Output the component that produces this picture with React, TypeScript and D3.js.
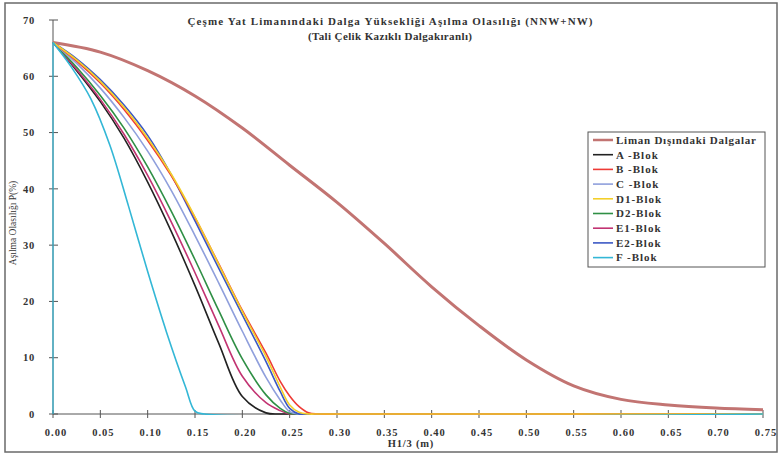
import React from "react";
import * as d3 from "d3";

const titleLine1 = "Çeşme Yat Limanındaki Dalga Yüksekliği Aşılma Olasılığı  (NNW+NW)";
const titleLine2 = "(Tali Çelik Kazıklı Dalgakıranlı)";
const yLabel = "Aşılma Olasılığı P(%)";
const xLabel = "H1/3 (m)";

const xTicks = [0, 0.05, 0.1, 0.15, 0.2, 0.25, 0.3, 0.35, 0.4, 0.45, 0.5, 0.55, 0.6, 0.65, 0.7, 0.75];
const yTicks = [0, 10, 20, 30, 40, 50, 60, 70];

// Outer waves
const hOuter = [0, 0.05, 0.1, 0.15, 0.2, 0.25, 0.3, 0.35, 0.4, 0.45, 0.5, 0.55, 0.6, 0.65, 0.7, 0.75];
const pOuter = [66, 64.3, 61, 56.5, 50.8, 44.2, 37.6, 30.3, 22.6, 15.7, 9.6, 5.0, 2.6, 1.6, 1.05, 0.75];

// Block series share one H grid
const hBlock = [0, 0.025, 0.05, 0.075, 0.1, 0.125, 0.15, 0.175, 0.2, 0.225, 0.24, 0.25, 0.26, 0.27, 0.28, 0.3, 0.75];
const pA = [66, 61.0, 55.5, 49.0, 41.2, 32.4, 22.8, 12.6, 3.1, 0.2, 0, 0, 0, 0, 0, 0, 0];
const pB = [66, 62.7, 58.8, 54.1, 48.6, 42.3, 34.9, 26.7, 18.4, 10.8, 5.8, 3.2, 1.3, 0.2, 0, 0, 0];
const pC = [66, 62.3, 57.9, 52.7, 46.7, 39.7, 31.7, 23.3, 14.7, 6.5, 2.5, 0.4, 0, 0, 0, 0, 0];
const pD1 = [66, 62.9, 59.1, 54.5, 49.0, 42.6, 35.0, 26.6, 18.2, 10.2, 4.8, 1.6, 0.3, 0, 0, 0, 0];
const pD2 = [66, 61.6, 56.6, 50.8, 43.9, 36.0, 27.4, 18.4, 9.8, 3.4, 1.0, 0.1, 0, 0, 0, 0, 0];
const pE1 = [66, 61.2, 55.9, 49.7, 42.4, 34.1, 25.1, 15.7, 6.7, 2.0, 0.6, 0, 0, 0, 0, 0, 0];
const pE2 = [66, 63.1, 59.4, 54.9, 49.5, 42.5, 34.3, 25.9, 17.6, 9.3, 4.0, 1.0, 0, 0, 0, 0, 0];

// F block
const hF = [0, 0.02, 0.04, 0.06, 0.08, 0.1, 0.12, 0.14, 0.15, 0.16, 0.75];
const pF = [66, 61.5, 56, 47.8, 36.8, 25.3, 14.5, 4.8, 0.5, 0, 0];

const seriesNames = ["Liman Dışındaki Dalgalar", "A -Blok", "B -Blok", "C -Blok", "D1-Blok", "D2-Blok", "E1-Blok", "E2-Blok", "F -Blok"];
const seriesColors = ["#c27472", "#222222", "#ee3b36", "#8f9fdc", "#f3cf2a", "#2f8f45", "#c23372", "#3b58c4", "#33b7d6"];

export default function App() {
  const W = 780, H = 457;
  const x = d3.scaleLinear().domain([0, 0.75]).range([53, 763]);
  const y = d3.scaleLinear().domain([0, 70]).range([414, 20]);

  const mk = (hs: number[], ps: number[]) => hs.map((h, i) => [h, ps[i]] as [number, number]);
  const series = [
    mk(hOuter, pOuter),
    mk(hBlock, pA),
    mk(hBlock, pB),
    mk(hBlock, pC),
    mk(hBlock, pD1),
    mk(hBlock, pD2),
    mk(hBlock, pE1),
    mk(hBlock, pE2),
    mk(hF, pF),
  ];
  const line = d3
    .line<[number, number]>()
    .x((d) => x(d[0]))
    .y((d) => y(d[1]))
    .curve(d3.curveCatmullRom.alpha(0.5));
  const vline = d3.line<[number, number]>().x((d) => x(d[0])).y((d) => y(d[1]));

  const drawOrder = [0, 1, 6, 5, 3, 7, 2, 4, 8];
  const serif = "'Liberation Serif', 'Times New Roman', serif";
  const legendX = 588, legendY = 132;
  const rowH = 14.7;

  return (
    <svg width={W} height={H} style={{ position: "absolute", left: 0, top: 0, background: "#fff" }}>
      <defs>
        <clipPath id="plotClip">
          <rect x={x(0) - 2} y={0} width={x(0.75) - x(0) + 4} height={y(0) + 1} />
        </clipPath>
      </defs>
      <rect x={0} y={0} width={W} height={H} fill="#fff" />
      <rect x={5} y={3} width={772} height={449} fill="none" stroke="#6a6a6a" strokeWidth={1.5} />

      {/* title */}
      <text x={390} y={25} textAnchor="middle" fontFamily={serif} fontWeight="bold" fontSize={11} fill="#333"
        textLength={405} lengthAdjust="spacing">{titleLine1}</text>
      <text x={390} y={40} textAnchor="middle" fontFamily={serif} fontWeight="bold" fontSize={11} fill="#333"
        textLength={164} lengthAdjust="spacing">{titleLine2}</text>

      {/* y axis */}
      <line x1={x(0)} x2={x(0)} y1={y(0)} y2={y(70)} stroke="#555" strokeWidth={1} />
      {yTicks.map((t) => (
        <g key={"y" + t}>
          <line x1={x(0) - 4} x2={x(0) + 5} y1={y(t)} y2={y(t)} stroke="#555" strokeWidth={1} />
          <text x={35} y={y(t)} dy="0.35em" textAnchor="end" fontFamily={serif} fontWeight="bold" fontSize={10.5}
            fill="#333" letterSpacing={0.8}>{t}</text>
        </g>
      ))}
      {/* x axis */}
      <line x1={x(0)} x2={x(0.75)} y1={y(0)} y2={y(0)} stroke="#555" strokeWidth={1} />
      {xTicks.map((t) => (
        <g key={"x" + t}>
          <line x1={x(t)} x2={x(t)} y1={y(0) - 4} y2={y(0) + 4} stroke="#555" strokeWidth={1} />
          <text x={x(t) + 3} y={436} textAnchor="middle" fontFamily={serif} fontWeight="bold" fontSize={10.5}
            fill="#333" letterSpacing={1}>{t.toFixed(2)}</text>
        </g>
      ))}
      <text x={411} y={447} textAnchor="middle" fontFamily={serif} fontWeight="bold" fontSize={10.5} fill="#333"
        letterSpacing={0.8}>{xLabel}</text>
      <text transform={`translate(16,223) rotate(-90)`} textAnchor="middle" fontFamily={serif} fontSize={9.5}
        fill="#333">{yLabel}</text>

      {/* series */}
      <g clipPath="url(#plotClip)">
        {drawOrder.map((i) => (
          <path key={"s" + i} d={line(series[i]) || ""} fill="none" stroke={seriesColors[i]}
            strokeWidth={i === 0 ? 3 : 1.6} strokeLinejoin="round" />
        ))}
        <path d={vline([[0, 0], [0, pF[0]]]) || ""} fill="none" stroke={seriesColors[8]} strokeWidth={1.2} />
      </g>

      {/* legend */}
      <rect x={legendX} y={legendY} width={177} height={135} fill="#fff" stroke="#555" strokeWidth={1} />
      {seriesNames.map((n, i) => (
        <g key={"l" + i}>
          <line x1={legendX + 5} x2={legendX + 25} y1={legendY + 8 + i * rowH} y2={legendY + 8 + i * rowH}
            stroke={seriesColors[i]} strokeWidth={i === 0 ? 2.5 : 1.6} />
          <text x={legendX + 28} y={legendY + 8 + i * rowH} dy="0.35em" fontFamily={serif} fontWeight="bold"
            fontSize={11} fill="#333" letterSpacing={1}
            {...(i === 0 ? { textLength: 141, lengthAdjust: "spacing" } : {})}>{n}</text>
        </g>
      ))}
    </svg>
  );
}
